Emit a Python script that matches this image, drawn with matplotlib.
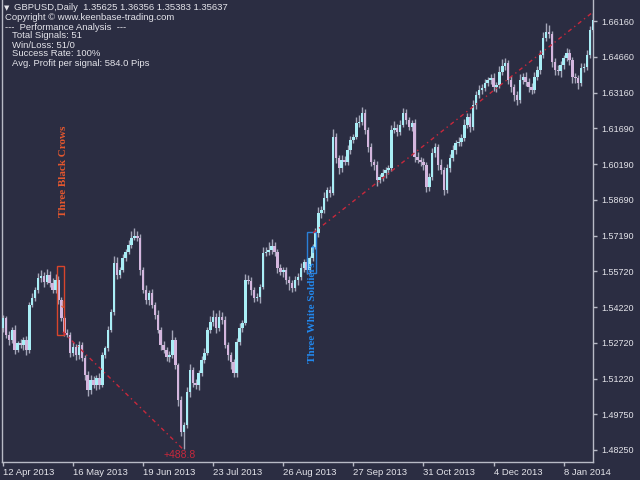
import matplotlib
matplotlib.use("Agg")
import matplotlib.pyplot as plt
from matplotlib.patches import Rectangle
import numpy as np
import pandas as pd

# daily closes (GBPUSD)
closes = [
    1.5376, 1.5305, 1.5284, 1.5326, 1.5243, 1.5272, 1.5264, 1.5284, 1.5243, 1.5431,
    1.5460, 1.5493, 1.5543, 1.5552, 1.5527, 1.5556, 1.5522, 1.5493, 1.5535, 1.5451,
    1.5376, 1.5314, 1.5305, 1.5230, 1.5255, 1.5222, 1.5264, 1.5209, 1.5138, 1.5076,
    1.5117, 1.5097, 1.5126, 1.5097, 1.5222, 1.5251, 1.5326, 1.5401, 1.5606, 1.5556,
    1.5577, 1.5627, 1.5652, 1.5681, 1.5710, 1.5719, 1.5710, 1.5577, 1.5493, 1.5451,
    1.5481, 1.5431, 1.5389, 1.5326, 1.5264, 1.5243, 1.5214, 1.5222, 1.5284, 1.5180,
    1.5034, 1.4900, 1.4930, 1.5067, 1.5159, 1.5105, 1.5097, 1.5147, 1.5201, 1.5230,
    1.5326, 1.5360, 1.5381, 1.5335, 1.5381, 1.5368, 1.5264, 1.5222, 1.5193, 1.5147,
    1.5276, 1.5335, 1.5355, 1.5535, 1.5531, 1.5493, 1.5460, 1.5464, 1.5506, 1.5648,
    1.5652, 1.5660, 1.5677, 1.5652, 1.5585, 1.5568, 1.5577, 1.5535, 1.5522, 1.5502,
    1.5535, 1.5548, 1.5585, 1.5610, 1.5577, 1.5627, 1.5673, 1.5731, 1.5815, 1.5827,
    1.5877, 1.5911, 1.5898, 1.6132, 1.6044, 1.6003, 1.6036, 1.6028, 1.6078, 1.6119,
    1.6132, 1.6190, 1.6195, 1.6232, 1.6161, 1.6090, 1.6028, 1.6015, 1.5952, 1.5965,
    1.5982, 1.5994, 1.6003, 1.6161, 1.6170, 1.6153, 1.6182, 1.6232, 1.6203, 1.6174,
    1.6190, 1.6049, 1.6036, 1.6028, 1.6015, 1.5923, 1.5965, 1.6065, 1.6090, 1.6015,
    1.5994, 1.5911, 1.6003, 1.6044, 1.6078, 1.6107, 1.6111, 1.6128, 1.6182, 1.6216,
    1.6174, 1.6266, 1.6307, 1.6328, 1.6337, 1.6357, 1.6370, 1.6378, 1.6341, 1.6349,
    1.6403, 1.6428, 1.6441, 1.6370, 1.6341, 1.6307, 1.6286, 1.6370, 1.6383, 1.6362,
    1.6341, 1.6328, 1.6383, 1.6412, 1.6474, 1.6545, 1.6570, 1.6562, 1.6445, 1.6412,
    1.6408, 1.6433, 1.6462, 1.6483, 1.6453, 1.6383, 1.6378, 1.6357, 1.6420, 1.6424,
    1.6474, 1.6579, 1.6620,
]
first_open = 1.5335

# wick lengths in pips above / below the body
up_wick = [
    14, 10, 18, 12, 20, 9, 15, 11, 16, 12, 20, 14, 22, 25, 18, 24, 16, 20, 25, 15,
    12, 10, 18, 14, 22, 12, 16, 10, 14, 18, 22, 15, 12, 20, 14, 10, 16, 12, 30, 24,
    14, 18, 12, 20, 28, 33, 22, 16, 14, 20, 12, 18, 10, 22, 14, 16, 12, 18, 40, 14,
    10, 16, 12, 20, 26, 14, 18, 12, 16, 22, 14, 26, 30, 18, 28, 20, 16, 12, 14, 10,
    18, 22, 14, 24, 20, 16, 12, 18, 14, 26, 22, 34, 28, 16, 12, 18, 14, 10, 16, 12,
    18, 14, 22, 12, 16, 10, 14, 20, 26, 18, 24, 14, 16, 32, 18, 14, 22, 16, 20, 18,
    14, 26, 30, 25, 18, 14, 16, 12, 18, 14, 16, 12, 10, 22, 28, 16, 20, 22, 18, 14,
    12, 16, 20, 14, 18, 12, 16, 22, 18, 14, 26, 12, 16, 18, 22, 14, 20, 16, 24, 18,
    14, 22, 16, 20, 14, 18, 12, 16, 20, 14, 26, 30, 22, 14, 18, 12, 16, 24, 18, 20,
    14, 16, 20, 18, 22, 24, 38, 28, 14, 16, 20, 18, 14, 22, 16, 14, 18, 12, 20, 16,
    22, 18, 30,
]
down_wick = [
    16, 12, 20, 14, 18, 10, 14, 22, 20, 12, 10, 14, 12, 16, 20, 10, 18, 14, 12, 16,
    14, 12, 10, 18, 14, 20, 16, 12, 22, 26, 18, 14, 20, 16, 10, 12, 14, 10, 12, 18,
    14, 10, 12, 8, 12, 10, 14, 20, 12, 18, 22, 14, 16, 12, 20, 14, 18, 22, 12, 16,
    24, 18, 71, 14, 20, 16, 18, 22, 12, 14, 10, 12, 16, 20, 14, 18, 12, 22, 28, 18,
    16, 12, 18, 10, 14, 20, 16, 12, 24, 10, 14, 12, 16, 18, 20, 14, 22, 16, 30, 18,
    14, 20, 12, 16, 18, 14, 12, 10, 16, 20, 14, 12, 18, 10, 22, 26, 16, 14, 12, 16,
    14, 10, 18, 12, 16, 20, 18, 22, 24, 14, 16, 20, 18, 12, 14, 16, 12, 10, 18, 14,
    16, 20, 14, 18, 22, 20, 18, 12, 16, 22, 18, 20, 14, 16, 12, 18, 14, 16, 12, 14,
    20, 12, 18, 14, 16, 12, 14, 18, 16, 20, 14, 12, 16, 18, 22, 24, 20, 14, 16, 18,
    20, 18, 14, 12, 16, 14, 12, 18, 22, 20, 18, 24, 16, 14, 20, 26, 22, 24, 14, 16,
    12, 14, 10,
]

# trading days, no bar on Christmas
days = pd.bdate_range("2013-04-12", periods=len(closes) + 1)
days = days[days != pd.Timestamp("2013-12-25")][:len(closes)]

# price scale labels shown on the right
price_ticks = [1.66160, 1.64660, 1.63160, 1.61690, 1.60190, 1.58690, 1.57190,
               1.55720, 1.54220, 1.52720, 1.51220, 1.49750, 1.48250]

# pattern signals: (first bar, last bar, low, high) and trade lines
crows_box = [18.6, 20.9, 1.5305, 1.5593]
soldiers_box = [104.1, 107.2, 1.5564, 1.5735]
crows_trade = [20.5, 1.5318, 61.6, 1.4829]
soldiers_trade = [106.2, 1.5731, 202.1, 1.6654]
crows_profit = "+488.8"

header = ["Copyright \u00a9 www.keenbase-trading.com",
          "---  Performance Analysis  ---",
          "Total Signals: 51",
          "Win/Loss: 51/0",
          "Success Rate: 100%",
          "Avg. Profit per signal: 584.0 Pips"]

bg = "#2b2d42"
fg = "#e4e4ea"
axis_col = "#b8bac6"
bull_col = "#a9eef6"
bear_col = "#d4b6de"
wick_col = "#a4a6b8"
trade_col = "#c8283c"
font = "Liberation Sans"

closes = np.array(closes)
opens = np.concatenate([[first_open], closes[:-1]])
top = np.maximum(opens, closes)
bot = np.minimum(opens, closes)
highs = top + np.array(up_wick) / 10000.0
lows = bot - np.array(down_wick) / 10000.0
idx = np.arange(len(closes))
up = closes >= opens

fig = plt.figure(figsize=(6.4, 4.8), dpi=100, facecolor=bg)
ax = fig.add_axes([1.5 / 640, 18 / 480, 591.5 / 640, 462 / 480])
ax.set_facecolor(bg)

ax.vlines(idx, lows, highs, color=wick_col, linewidth=1.0, zorder=2)
ax.bar(idx[up], np.maximum(top - bot, 0.0003)[up], bottom=bot[up], width=0.85,
       color=bull_col, linewidth=0, zorder=3)
ax.bar(idx[~up], np.maximum(top - bot, 0.0003)[~up], bottom=bot[~up], width=0.85,
       color=bear_col, linewidth=0, zorder=3)

ax.set_xlim(-0.51, 202.05)
ax.set_ylim(1.47749, 1.67037)

# signal markings
ax.add_patch(Rectangle((crows_box[0], crows_box[2]), crows_box[1] - crows_box[0],
                       crows_box[3] - crows_box[2], fill=False,
                       edgecolor="#d8452c", linewidth=1, zorder=4))
ax.add_patch(Rectangle((soldiers_box[0], soldiers_box[2]), soldiers_box[1] - soldiers_box[0],
                       soldiers_box[3] - soldiers_box[2], fill=False,
                       edgecolor="#2a7fd8", linewidth=1, zorder=4))
ax.plot([crows_trade[0], crows_trade[2]], [crows_trade[1], crows_trade[3]],
        color=trade_col, linewidth=1, linestyle=(0, (3, 2.5, 1, 2.5)), zorder=5)
ax.plot([soldiers_trade[0], soldiers_trade[2]], [soldiers_trade[1], soldiers_trade[3]],
        color=trade_col, linewidth=1, linestyle=(0, (3, 2.5, 1, 2.5)), zorder=5)
ax.text(crows_trade[2] - 1, crows_trade[3] - 0.0026, crows_profit, color=trade_col,
        fontsize=7.5, fontfamily=font, ha="center", va="center", zorder=6)

ax.text(20.7, 1.5990, "Three Black Crows", rotation=90, color="#e4572e",
        fontfamily="Liberation Serif", fontweight="bold", fontsize=8,
        ha="center", va="center")
ax.text(106.0, 1.5400, "Three White Soldiers", rotation=90, color="#2288ee",
        fontfamily="Liberation Serif", fontweight="bold", fontsize=8,
        ha="center", va="center")
ax.text(20.6, 1.5430, "\u2193", color="#e4572e", fontsize=7, ha="center", va="center")
ax.text(106.3, 1.5660, "\u2191", color="#2288ee", fontsize=7, ha="center", va="center")

# axes look
ax.spines["top"].set_visible(False)
for side in ["left", "right", "bottom"]:
    ax.spines[side].set_color(axis_col)
    ax.spines[side].set_linewidth(1)

ax.yaxis.tick_right()
ax.set_yticks(price_ticks)
ax.set_yticklabels(["%.5f" % p for p in price_ticks], fontfamily=font)
ax.tick_params(axis="y", colors=axis_col, labelcolor=fg, labelsize=6.5, length=3,
               width=1, pad=3)

xt = list(range(0, len(closes), 24))
ax.set_xticks(xt)
ax.set_xticklabels(["%d %s" % (days[i].day, days[i].strftime("%b %Y")) for i in xt],
                   ha="left", fontfamily=font)
ax.tick_params(axis="x", colors=axis_col, labelcolor=fg, labelsize=6.8, length=3,
               width=1, pad=1.5)

# info block in the top-left corner
fig.text(4 / 640, 1 - 8 / 480, "\u25bc", color=fg, fontsize=5, va="center")
fig.text(14 / 640, 1 - 8 / 480, "GBPUSD,Daily  1.35625 1.36356 1.35383 1.35637",
         color=fg, fontsize=6.8, fontfamily=font, va="center")
line_y = [18, 27, 36, 45, 54, 63]
line_x = [5, 5, 12, 12, 12, 12]
for txt, yy, xx in zip(header, line_y, line_x):
    fig.text(xx / 640, 1 - yy / 480, txt, color=fg, fontsize=6.8, fontfamily=font,
             va="center")

fig.savefig("out.png", dpi=100, facecolor=bg)
